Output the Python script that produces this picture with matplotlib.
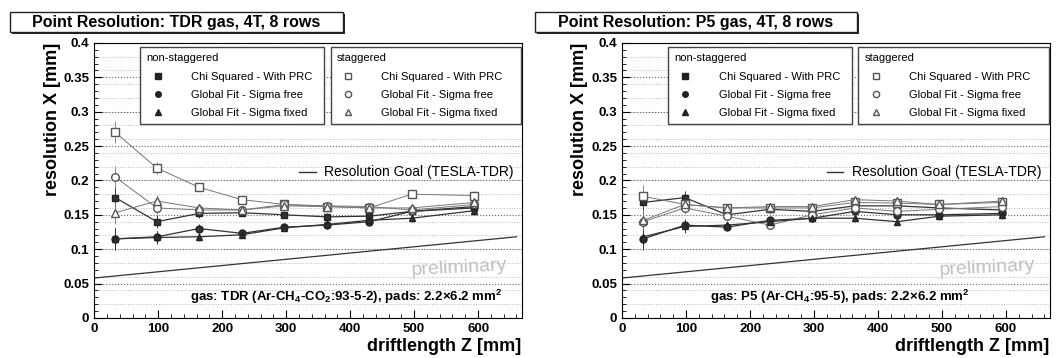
import numpy as np
import matplotlib
matplotlib.use("Agg")
import matplotlib.pyplot as plt
from matplotlib.lines import Line2D
from matplotlib.patches import Rectangle

plt.rcParams['font.family'] = ['Liberation Sans', 'DejaVu Sans']
plt.rcParams['mathtext.default'] = 'regular'

z = [33, 98, 164, 231, 297, 364, 430, 496, 594]
err = [0.016, 0.009, 0.006, 0.005, 0.005, 0.005, 0.005, 0.005, 0.006]

goal_z = [0, 660]
goal_res = [0.058, 0.118]

# TDR gas
tdr_chi_ns = [0.175, 0.140, 0.152, 0.153, 0.150, 0.147, 0.148, 0.155, 0.160]
tdr_free_ns = [0.115, 0.118, 0.130, 0.123, 0.132, 0.135, 0.140, 0.155, 0.162]
tdr_fixed_ns = [0.115, 0.117, 0.118, 0.121, 0.131, 0.136, 0.142, 0.145, 0.156]
tdr_chi_st = [0.270, 0.218, 0.190, 0.172, 0.165, 0.162, 0.160, 0.180, 0.178]
tdr_free_st = [0.205, 0.160, 0.157, 0.157, 0.165, 0.163, 0.162, 0.157, 0.165]
tdr_fixed_st = [0.153, 0.170, 0.160, 0.157, 0.163, 0.162, 0.160, 0.160, 0.168]

# P5 gas
p5_chi_ns = [0.168, 0.175, 0.150, 0.158, 0.155, 0.163, 0.163, 0.160, 0.157]
p5_free_ns = [0.115, 0.135, 0.132, 0.142, 0.145, 0.155, 0.150, 0.150, 0.152]
p5_fixed_ns = [0.118, 0.133, 0.135, 0.140, 0.145, 0.145, 0.140, 0.148, 0.150]
p5_chi_st = [0.177, 0.165, 0.160, 0.160, 0.160, 0.168, 0.167, 0.165, 0.168]
p5_free_st = [0.140, 0.160, 0.148, 0.135, 0.150, 0.160, 0.155, 0.158, 0.162]
p5_fixed_st = [0.142, 0.165, 0.160, 0.162, 0.162, 0.172, 0.170, 0.165, 0.170]

labels = ["Chi Squared - With PRC", "Global Fit - Sigma free", "Global Fit - Sigma fixed"]
markers = ["s", "o", "^"]

panels = [
    ("Point Resolution: TDR gas, 4T, 8 rows",
     r"gas: TDR (Ar-CH$_4$-CO$_2$:93-5-2), pads: 2.2$\times$6.2 mm$^2$", 0.59,
     [tdr_chi_ns, tdr_free_ns, tdr_fixed_ns], [tdr_chi_st, tdr_free_st, tdr_fixed_st]),
    ("Point Resolution: P5 gas, 4T, 8 rows",
     r"gas: P5 (Ar-CH$_4$:95-5), pads: 2.2$\times$6.2 mm$^2$", 0.51,
     [p5_chi_ns, p5_free_ns, p5_fixed_ns], [p5_chi_st, p5_free_st, p5_fixed_st]),
]

W, H = 1058, 358
fig = plt.figure(figsize=(W / 100, H / 100), dpi=100)
lefts = [0.089, 0.588]
title_boxes = [(10, 343), (535, 857)]

for i, (title, gastext, gx, ns, st) in enumerate(panels):
    ax = fig.add_axes([lefts[i], 0.112, 0.404, 0.768])
    # fine dotted grid (every 0.02) plus major grid
    ax.hlines(np.arange(0.02, 0.4, 0.02), 0, 668, colors='#bbbbbb', linestyles=':', lw=0.7, zorder=0)
    ax.yaxis.grid(True, which='major', ls=':', color='#666666', lw=0.8)
    ax.plot(goal_z, goal_res, color='#333333', lw=0.9)
    for k in range(3):
        ax.errorbar(z, ns[k], yerr=err, marker=markers[k], color='#333333', mfc='#333333',
                    mec='#222222', ms=5, lw=0.9, elinewidth=0.7, capsize=0)
        ax.errorbar(z, st[k], yerr=err, marker=markers[k], color='#777777', mfc='white',
                    mec='#555555', ms=5.5, lw=0.7, elinewidth=0.6, capsize=0)
    ax.set_xlim(0, 668)
    ax.set_ylim(0, 0.4)
    ax.set_yticks(np.arange(0, 0.41, 0.05))
    ax.set_yticklabels(['0', '0.05', '0.1', '0.15', '0.2', '0.25', '0.3', '0.35', '0.4'])
    ax.set_xticks(range(0, 601, 100))
    ax.minorticks_on()
    ax.tick_params(which='both', direction='in', labelsize=9.5)
    ax.tick_params(which='major', length=6)
    ax.tick_params(which='minor', length=3)
    for lab in ax.get_xticklabels() + ax.get_yticklabels():
        lab.set_fontweight('bold')
    ax.set_ylabel("resolution X [mm]", fontsize=13, fontweight='bold', loc='top', labelpad=2)
    ax.set_xlabel("driftlength Z [mm]", fontsize=13, fontweight='bold', loc='right', labelpad=2)

    h_ns = [Line2D([], [], ls='none', marker=markers[k], color='#222222', ms=4) for k in range(3)]
    h_st = [Line2D([], [], ls='none', marker=markers[k], mfc='white', mec='#555555', ms=4.5) for k in range(3)]
    kw = dict(loc='upper left', mode='expand', fontsize=8, title_fontsize=8, alignment='left',
              fancybox=False, edgecolor='#444444', framealpha=1, borderaxespad=0,
              handletextpad=2.0, labelspacing=0.75, borderpad=0.55)
    leg1 = ax.legend(h_ns, labels, title="non-staggered", bbox_to_anchor=(0.108, 0.985, 0.43, 0.0), **kw)
    ax.add_artist(leg1)
    leg2 = ax.legend(h_st, labels, title="staggered", bbox_to_anchor=(0.553, 0.985, 0.445, 0.0), **kw)
    ax.add_artist(leg2)
    ax.legend([Line2D([], [], color='#333333', lw=1)], ["Resolution Goal (TESLA-TDR)"],
              loc='upper right', bbox_to_anchor=(1.01, 0.6), frameon=False, fontsize=10,
              handlelength=1.2, handletextpad=0.6)

    ax.text(0.855, 0.18, "preliminary", transform=ax.transAxes, fontsize=14,
            color='#c0c0c0', ha='center', va='center', rotation=3)
    ax.text(gx, 0.076, gastext, transform=ax.transAxes, fontsize=9.5,
            fontweight='bold', ha='center', va='center')

    x0, x1 = title_boxes[i]
    fig.patches.append(Rectangle((x0 / W + 2 / W, 1 - 34 / H), (x1 - x0) / W, 20 / H,
                                 transform=fig.transFigure, fc='#222222', ec='none'))
    fig.patches.append(Rectangle((x0 / W, 1 - 32 / H), (x1 - x0) / W, 20 / H,
                                 transform=fig.transFigure, fc='white', ec='#222222', lw=1))
    fig.text((x0 + x1) / 2 / W, 1 - 22.5 / H, title, fontsize=11.5, fontweight='bold',
             ha='center', va='center')

fig.savefig("out.png", dpi=100)
